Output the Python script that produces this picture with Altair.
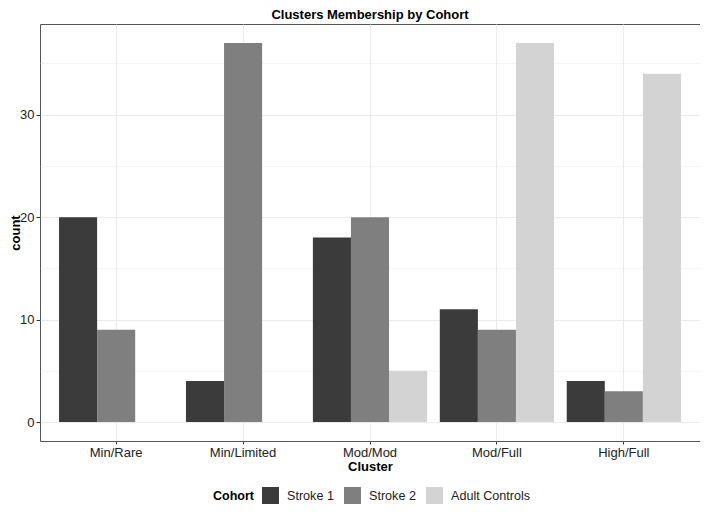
import altair as alt
import pandas as pd

clusters = ["Min/Rare", "Min/Limited", "Mod/Mod", "Mod/Full", "High/Full"]
cohorts = ["Stroke 1", "Stroke 2", "Adult Controls"]
stroke1 = [20, 4, 18, 11, 4]
stroke2 = [9, 37, 20, 9, 3]
adult_controls = [None, None, 5, 37, 34]
colors = ["#3b3b3b", "#7f7f7f", "#d3d3d3"]

rows = []
for series, vals in zip(cohorts, [stroke1, stroke2, adult_controls]):
    for c, v in zip(clusters, vals):
        if v is not None:
            rows.append({"Cluster": c, "Cohort": series, "count": v})
df = pd.DataFrame(rows)

FONT = "Liberation Sans"
major = "datum.value % 10 === 0"

bars = alt.Chart(df).mark_bar().encode(
    x=alt.X("Cluster:N", sort=clusters,
            scale=alt.Scale(paddingInner=0.1, paddingOuter=0.15),
            axis=alt.Axis(title="Cluster", labelAngle=0, bandPosition=0.5,
                          grid=True, gridColor="#ebebeb", gridWidth=1,
                          domain=False, tickColor="#333333", tickSize=3,
                          labelPadding=2, labelFontSize=13, labelColor="#222222",
                          labelFont=FONT, titleFont=FONT, titleFontSize=13,
                          titleFontWeight="bold", titleColor="#000000",
                          titlePadding=1)),
    xOffset=alt.XOffset("Cohort:N", sort=cohorts,
                        scale=alt.Scale(paddingInner=0, paddingOuter=0)),
    y=alt.Y("count:Q",
            scale=alt.Scale(domain=[-1.85, 38.85], nice=False, zero=False),
            axis=alt.Axis(title="count",
                          values=[0, 5, 10, 15, 20, 25, 30, 35],
                          labelExpr="datum.value % 10 === 0 ? datum.label : ''",
                          grid=True, gridColor="#ebebeb",
                          gridWidth=alt.condition(major, alt.value(1), alt.value(0.5)),
                          tickOpacity=alt.condition(major, alt.value(1), alt.value(0)),
                          domain=False, tickColor="#333333", tickSize=4,
                          labelPadding=2, labelFontSize=13, labelColor="#222222",
                          labelFont=FONT, titleFont=FONT, titleFontSize=13,
                          titleFontWeight="bold", titleColor="#000000",
                          titleX=-21, titleBaseline="alphabetic")),
    color=alt.Color("Cohort:N", sort=cohorts,
                    scale=alt.Scale(domain=cohorts, range=colors),
                    legend=alt.Legend(title="Cohort", orient="none",
                                      direction="horizontal", titleOrient="left",
                                      legendX=173, legendY=463,
                                      symbolType="square", symbolSize=289,
                                      symbolStrokeWidth=0, symbolOpacity=1,
                                      labelFont=FONT, labelFontSize=12.6,
                                      labelColor="#222222", labelOffset=8,
                                      columnPadding=10,
                                      titleFont=FONT, titleFontSize=12.5,
                                      titleFontWeight="bold", titleColor="#000000",
                                      titlePadding=8)),
)

chart = bars.properties(
    width=660, height=417,
    background="white",
    title=alt.TitleParams("Clusters Membership by Cohort", font=FONT,
                          fontSize=13, fontWeight="bold", color="#000000",
                          anchor="middle", offset=2),
    autosize=alt.AutoSizeParams(type="none"),
    padding={"left": 32, "top": 16, "right": 0, "bottom": 63},
).configure_view(stroke="#555555", strokeWidth=1)

chart.save("out.html", embed_options={"renderer": "svg", "actions": False})
